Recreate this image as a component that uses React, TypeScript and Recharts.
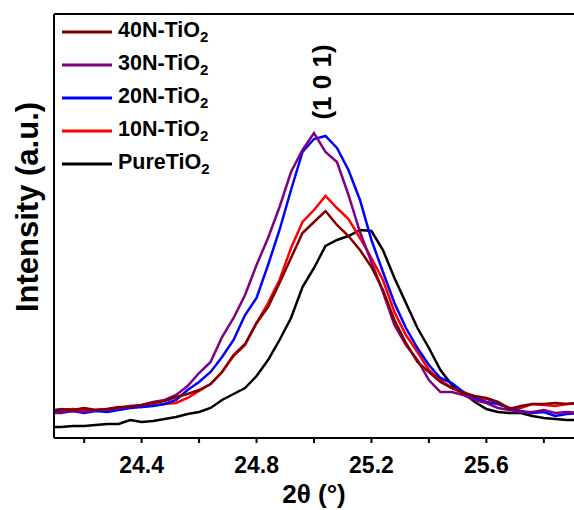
import { Legend, Line, LineChart, ReferenceLine, XAxis, YAxis } from "recharts";

const FONT = "Arial, 'Liberation Sans', sans-serif";

// 2θ positions (degrees)
const twoTheta = [
  24.08, 24.12, 24.16, 24.2, 24.24, 24.28, 24.32, 24.36, 24.4, 24.44, 24.48, 24.52, 24.56, 24.6, 24.64, 24.68,
  24.72, 24.76, 24.8, 24.84, 24.88, 24.92, 24.96, 25.0, 25.04, 25.08, 25.12, 25.16, 25.2, 25.24, 25.28, 25.32,
  25.36, 25.4, 25.44, 25.48, 25.52, 25.56, 25.6, 25.64, 25.68, 25.72, 25.76, 25.8, 25.84, 25.88, 25.92,
];

const pureTiO2 = [
  11, 11, 12, 12, 13, 14, 14, 18, 16, 17, 19, 21, 24, 26, 30, 38, 44, 50, 62, 78, 98, 120, 151, 170, 192, 198, 202,
  208, 207, 188, 160, 135, 110, 90, 68, 53, 45, 36, 29, 26, 25, 25, 22, 20, 19, 18, 18,
];
const n10TiO2 = [
  28, 28, 29, 28, 28, 29, 30, 32, 31, 33, 34, 35, 40, 47, 54, 66, 82, 93, 115, 135, 158, 190, 216, 228, 242, 230, 219,
  200, 180, 158, 126, 103, 86, 68, 58, 50, 46, 41, 39, 36, 30, 30, 34, 33, 32, 34, 35,
];
const n20TiO2 = [
  27, 26, 27, 25, 27, 26, 28, 30, 31, 32, 34, 38, 48, 56, 66, 81, 98, 123, 140, 173, 208, 248, 286, 299, 302, 290, 268,
  238, 198, 166, 135, 110, 90, 73, 60, 55, 46, 40, 36, 34, 30, 27, 25, 26, 22, 24, 25,
];
const n30TiO2 = [
  25, 25, 27, 26, 28, 28, 30, 32, 33, 36, 38, 43, 52, 65, 76, 101, 120, 143, 173, 200, 231, 266, 288, 305, 286, 276,
  243, 206, 176, 146, 113, 93, 78, 58, 46, 46, 43, 38, 35, 30, 28, 26, 26, 28, 25, 26, 25,
];
const n40TiO2 = [
  27, 29, 28, 30, 28, 29, 31, 31, 33, 35, 37, 41, 44, 48, 54, 66, 83, 94, 115, 131, 155, 180, 205, 216, 227, 213, 202,
  188, 171, 148, 118, 95, 76, 66, 56, 50, 45, 42, 40, 36, 29, 32, 34, 34, 35, 34, 35,
];

const xTicks = [24.2, 24.4, 24.6, 24.8, 25.0, 25.2, 25.4, 25.6, 25.8];

const series = [
  { key: "pure", name: "PureTiO", color: "#000000" },
  { key: "n10", name: "10N-TiO", color: "#FF0000" },
  { key: "n20", name: "20N-TiO", color: "#0000FF" },
  { key: "n30", name: "30N-TiO", color: "#800080" },
  { key: "n40", name: "40N-TiO", color: "#800000" },
];
const legendOrder = ["n40", "n30", "n20", "n10", "pure"];

const data = twoTheta.map((t, i) => ({
  t,
  pure: pureTiO2[i],
  n10: n10TiO2[i],
  n20: n20TiO2[i],
  n30: n30TiO2[i],
  n40: n40TiO2[i],
}));

function LegendBox() {
  return (
    <div style={{ fontFamily: FONT, fontWeight: "bold", fontSize: 21.5, color: "#000" }}>
      {legendOrder.map((k) => {
        const s = series.find((x) => x.key === k)!;
        return (
          <div key={k} style={{ display: "flex", alignItems: "center", height: 33, lineHeight: 1 }}>
            <svg width={50} height={4} style={{ display: "block" }}>
              <line x1={0} y1={2} x2={50} y2={2} stroke={s.color} strokeWidth={3} />
            </svg>
            <span style={{ marginLeft: 6, whiteSpace: "nowrap" }}>
              {s.name}
              <sub style={{ fontSize: 15, verticalAlign: -5, lineHeight: 1 }}>2</sub>
            </span>
          </div>
        );
      })}
    </div>
  );
}

function YTitle() {
  return (
    <text
      x={27}
      y={207}
      transform="rotate(-90 27 207)"
      textAnchor="middle"
      dominantBaseline="central"
      fontFamily={FONT}
      fontWeight="bold"
      fontSize={31}
      fill="#000"
    >
      Intensity (a.u.)
    </text>
  );
}

export default function App() {
  return (
    <div style={{ position: "absolute", left: 0, top: 0, width: 574, height: 510, background: "#fff" }}>
      <LineChart width={574} height={510} data={data} margin={{ top: 14, right: 0, bottom: 0, left: 0 }}>
        <XAxis
          dataKey="t"
          type="number"
          domain={[24.095, 25.905]}
          allowDataOverflow
          ticks={xTicks}
          tickFormatter={(v: number) => (Math.round(v * 10) % 4 === 0 ? v.toFixed(1) : "")}
          height={72}
          tickSize={5}
          tickMargin={14}
          axisLine={{ stroke: "#000", strokeWidth: 2 }}
          tickLine={{ stroke: "#000", strokeWidth: 2 }}
          tick={{ fill: "#000", fontSize: 23, fontWeight: "bold", fontFamily: FONT }}
          label={{
            value: "2θ (°)",
            position: "insideBottom",
            offset: 7,
            fill: "#000",
            fontSize: 26,
            fontWeight: "bold",
            fontFamily: FONT,
          }}
        />
        <YAxis
          type="number"
          domain={[0, 424]}
          allowDataOverflow
          width={54}
          tick={false}
          tickLine={false}
          axisLine={{ stroke: "#000", strokeWidth: 2 }}
          label={<YTitle />}
        />
        <ReferenceLine y={424} stroke="#000" strokeWidth={2} />
        {series.map((s) => (
          <Line
            key={s.key}
            dataKey={s.key}
            name={s.name}
            stroke={s.color}
            strokeWidth={2.5}
            dot={false}
            type="linear"
            isAnimationActive={false}
          />
        ))}
        <Legend
          layout="vertical"
          align="center"
          verticalAlign="middle"
          content={<LegendBox />}
          wrapperStyle={{ left: 62, top: 15, width: "auto", height: "auto" }}
        />
      </LineChart>
      <div
        style={{
          position: "absolute",
          left: 322,
          top: 82,
          transform: "translate(-50%, -50%) rotate(-90deg)",
          fontFamily: FONT,
          fontWeight: "bold",
          fontSize: 26,
          whiteSpace: "nowrap",
          color: "#000",
        }}
      >
        (1 0 1)
      </div>
    </div>
  );
}
